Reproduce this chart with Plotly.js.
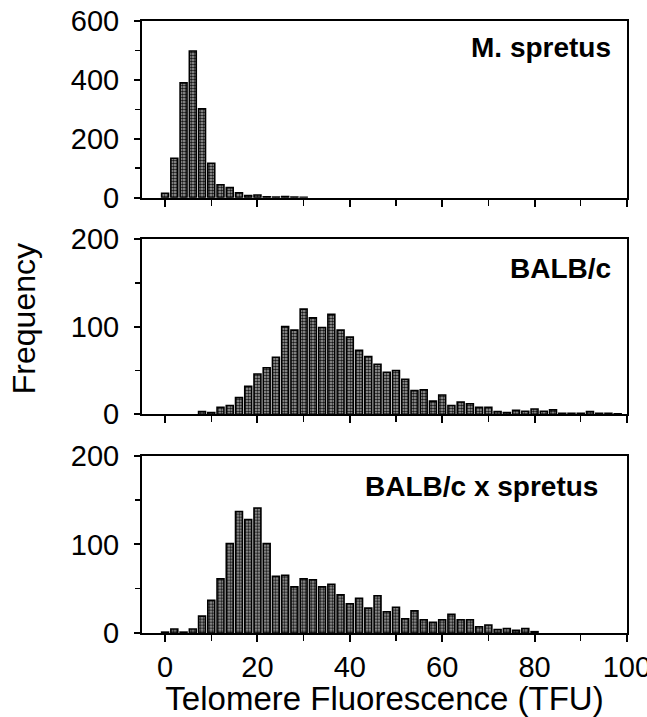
<!DOCTYPE html>
<html>
<head>
<meta charset="utf-8">
<script src="https://cdn.plot.ly/plotly-3.0.1.min.js"></script>
<style>html,body{margin:0;padding:0;background:#fff;}#chart{width:647px;height:717px;}</style>
</head>
<body>
<div id="chart"></div>
<script>
// Bin centers (TFU) and frequencies
const spretusX = [0,2,4,6,8,10,12,14,16,18,20,22,24,26,28,30];
const spretusY = [15,134,390,498,302,117,44,34,17,7,9,3,2,4,2,1];

const balbX = [8,10,12,14,16,18,20,22,24,26,28,30,32,34,36,38,40,42,44,46,48,50,52,54,56,58,60,62,64,66,68,70,72,74,76,78,80,82,84,86,88,90,92,94,96,98];
const balbY = [3,2,8,10,19,32,46,53,65,100,96,120,110,99,114,96,88,73,66,57,48,50,40,27,28,15,22,10,14,12,8,8,3,2,4.5,3.5,6,3.5,5,1,1,1,3,1,1,0.5];

const crossX = [0,2,4,6,8,10,12,14,16,18,20,22,24,26,28,30,32,34,36,38,40,42,44,46,48,50,52,54,56,58,60,62,64,66,68,70,72,74,76,78,80];
const crossY = [1,4.5,1,4.5,19,37,61,101,137,128,141,101,64,65,52,61,60,52,55,43,33,39,28,42,24,29,16,25,15,12,15,21,15,15,7,9,4,5,3,5,1.5];

const panelLabels = ["M. spretus", "BALB/c", "BALB/c x spretus"];
const xTitle = "Telomere Fluorescence (TFU)";
const yTitle = "Frequency";

const FONT = "Liberation Sans, Arial, Helvetica, sans-serif";

function barTrace(x, y, xa, ya) {
  return {
    type: "bar", x: x, y: y, xaxis: xa, yaxis: ya, width: 1.5,
    marker: {
      color: "#999",
      line: {color: "#000", width: 1.6},
      pattern: {shape: ".", fgcolor: "#1a1a1a", bgcolor: "#aaa", size: 3, solidity: 0.55}
    },
    hoverinfo: "x+y", showlegend: false
  };
}

const data = [
  barTrace(spretusX, spretusY, "x", "y"),
  barTrace(balbX, balbY, "x2", "y2"),
  barTrace(crossX, crossY, "x3", "y3")
];

function xAxis(anchor, labels) {
  return {
    anchor: anchor, domain: [0, 1], range: [-5, 100.02],
    showline: true, linewidth: 2, linecolor: "#000", mirror: true,
    ticks: "outside", ticklen: 7, tickwidth: 2, tickcolor: "#000",
    tick0: 0, dtick: 20,
    minor: {dtick: 10, tick0: 0, ticks: "outside", ticklen: 6, tickwidth: 1.5, tickcolor: "#000"},
    showgrid: false, zeroline: false, showticklabels: labels,
    ticklabeloverflow: "allow",
    tickfont: {family: FONT, size: 29, color: "#000"}
  };
}
function yAxis(anchor, domain, max, dt) {
  return {
    anchor: anchor, domain: domain, range: [0, max],
    showline: true, linewidth: 2, linecolor: "#000", mirror: true,
    ticks: "outside", ticklen: 6, tickwidth: 2, tickcolor: "#000",
    tick0: 0, dtick: dt,
    minor: {dtick: dt / 2, tick0: 0, ticks: "outside", ticklen: 5, tickwidth: 1.5, tickcolor: "#000"},
    showgrid: false, zeroline: false, ticklabelstandoff: 9,
    ticklabeloverflow: "allow",
    tickfont: {family: FONT, size: 29, color: "#000"}
  };
}

const x3 = xAxis("y3", true);
x3.title = {text: xTitle, font: {family: FONT, size: 33, color: "#000"}, standoff: 4};

const layout = {
  width: 647, height: 717,
  margin: {l: 142, r: 20, t: 21, b: 84},
  paper_bgcolor: "#fff", plot_bgcolor: "#fff",
  bargap: 0,
  xaxis: xAxis("y", false),
  xaxis2: xAxis("y2", false),
  xaxis3: x3,
  yaxis: yAxis("x", [0.7113, 1], 600, 200),
  yaxis2: yAxis("x2", [0.3574, 0.6438], 200, 100),
  yaxis3: yAxis("x3", [0, 0.2897], 200, 100),
  annotations: [
    {text: panelLabels[0], xref: "paper", yref: "paper", x: 0.971, y: 0.9575, xanchor: "right", yanchor: "middle", showarrow: false, font: {family: FONT, size: 28, color: "#000", weight: "bold"}},
    {text: panelLabels[1], xref: "paper", yref: "paper", x: 0.971, y: 0.5964, xanchor: "right", yanchor: "middle", showarrow: false, font: {family: FONT, size: 28, color: "#000", weight: "bold"}},
    {text: panelLabels[2], xref: "paper", yref: "paper", x: 0.944, y: 0.2386, xanchor: "right", yanchor: "middle", showarrow: false, font: {family: FONT, size: 28, color: "#000", weight: "bold"}},
    {text: yTitle, xref: "paper", yref: "paper", x: -0.243, y: 0.513, xanchor: "center", yanchor: "middle", textangle: -90, showarrow: false, font: {family: FONT, size: 32, color: "#000"}}
  ]
};

Plotly.newPlot("chart", data, layout, {displayModeBar: false, staticPlot: true});
</script>
</body>
</html>
